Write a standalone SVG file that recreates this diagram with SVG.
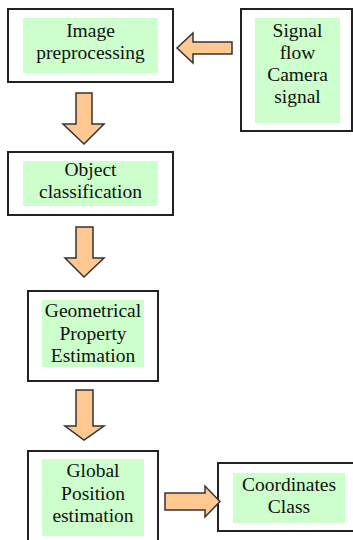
<svg xmlns="http://www.w3.org/2000/svg" width="353" height="540" viewBox="0 0 353 540">
<style>
.box{fill:#fff;stroke:#222;stroke-width:2}
.bg{fill:#ccffcc}
.t{font-size:19.5px;fill:#111;text-anchor:middle}
.arr{fill:#ffc891;stroke:#333;stroke-width:1.5;stroke-linejoin:miter}
</style>
<rect width="353" height="540" fill="#fff"/>
<g font-family="Liberation Serif, Times New Roman, serif">
<g id="n1">
<rect class="box" x="8" y="9" width="165" height="73"/>
<rect class="bg" x="23" y="18" width="135" height="55"/>
<text class="t" x="90.5" y="37">Image</text>
<text class="t" x="90.5" y="59">preprocessing</text>
</g>
<g id="n0">
<rect class="box" x="241" y="9" width="111" height="122"/>
<rect class="bg" x="255" y="18" width="85" height="105"/>
<text class="t" x="297.5" y="37">Signal</text>
<text class="t" x="297.5" y="59">flow</text>
<text class="t" x="297.5" y="81">Camera</text>
<text class="t" x="297.5" y="103">signal</text>
</g>
<g id="n2">
<rect class="box" x="8" y="152" width="165" height="63"/>
<rect class="bg" x="23" y="161" width="135" height="45"/>
<text class="t" x="90.5" y="176">Object</text>
<text class="t" x="90.5" y="198">classification</text>
</g>
<g id="n3">
<rect class="box" x="28" y="291" width="130" height="90"/>
<rect class="bg" x="42" y="300" width="102" height="67"/>
<text class="t" x="93" y="317">Geometrical</text>
<text class="t" x="93" y="340">Property</text>
<text class="t" x="93" y="362">Estimation</text>
</g>
<g id="n4">
<rect class="box" x="28" y="451" width="130" height="100"/>
<rect class="bg" x="42" y="459" width="102" height="77"/>
<text class="t" x="93" y="477">Global</text>
<text class="t" x="93" y="500">Position</text>
<text class="t" x="93" y="522">estimation</text>
</g>
<g id="n5">
<rect class="box" x="218" y="463" width="145" height="68"/>
<rect class="bg" x="233" y="473" width="112" height="50"/>
<text class="t" x="289" y="491">Coordinates</text>
<text class="t" x="289" y="513">Class</text>
</g>
</g>
<g id="connectors">
<polygon class="arr" points="76,93 92,93 92,124 104,124 84,144 63,124 76,124"/>
<polygon class="arr" points="76,227 93,227 93,258 104,258 84,277 65,258 76,258"/>
<polygon class="arr" points="76,390 93,390 93,426 104,426 84,440 65,426 76,426"/>
<polygon class="arr" points="232,42 232,54 193,54 193,63 177,48 193,33 193,42"/>
<polygon class="arr" points="165,493 205,493 205,486 220,501.5 205,517 205,510 165,510"/>
</g>
</svg>
